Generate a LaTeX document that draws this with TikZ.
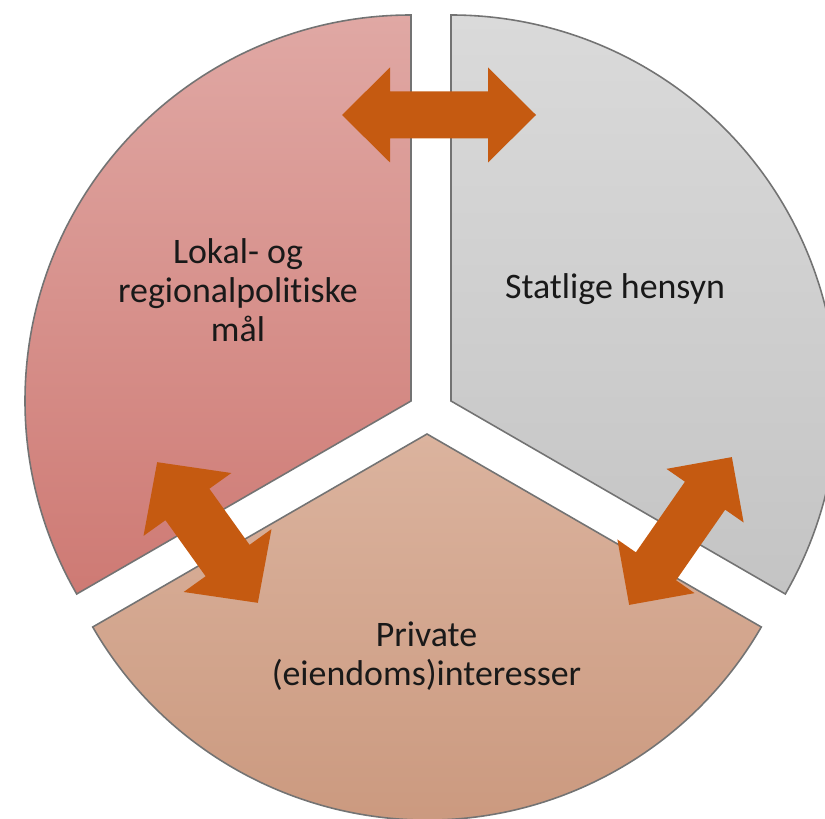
\documentclass[tikz,border=0pt]{standalone}
\usepackage{fontspec}
\setmainfont[Ligatures=NoCommon]{Carlito}
\definecolor{lokaltop}{HTML}{E0A8A4}
\definecolor{lokalbunn}{HTML}{CE7A74}
\definecolor{statligtop}{HTML}{DADADA}
\definecolor{statligbunn}{HTML}{C4C4C4}
\definecolor{privattop}{HTML}{DBB39E}
\definecolor{privatbunn}{HTML}{C9967B}
\definecolor{pilfarge}{HTML}{C55A11}
\tikzset{
  sektor/.style={draw=black!55, line width=0.45pt},
  pil/.style={fill=pilfarge},
  etikett/.style={align=center, text=black!90, inner sep=0pt,
    font=\fontsize{10.2}{11.1}\selectfont}
}
\begin{document}
\begin{tikzpicture}[x=0.01cm,y=0.01cm]
            \useasboundingbox (0,0) rectangle (825,818);
            \clip (0,0) rectangle (825,818);
            % the three sectors
            \shade[sektor,top color=lokaltop,bottom color=lokalbunn]
              (411,417) -- ++(90:386) arc[start angle=90,end angle=210,radius=386] -- cycle;
            \shade[sektor,top color=statligtop,bottom color=statligbunn]
              (451,417) -- ++(-30:386) arc[start angle=-30,end angle=90,radius=386] -- cycle;
            \shade[sektor,top color=privattop,bottom color=privatbunn]
              (427,384) -- ++(210:386) arc[start angle=210,end angle=330,radius=386] -- cycle;
            % double arrows
            \coordinate (pil1) at (439,703);
            \coordinate (pil2) at (207.5,285.5);
            \coordinate (pil3) at (680.5,287);
            \fill[pil,shift={(pil1)}] (-97,0) -- (-49,47.5) -- (-49,23.5) -- (49,23.5) -- (49,47.5)
              -- (97,0) -- (49,-47.5) -- (49,-23.5) -- (-49,-23.5) -- (-49,-47.5) -- cycle;
            \fill[pil,shift={(pil2)},rotate=125.6] (-86.5,0) -- (-34.5,54) -- (-34.5,27) -- (34.5,27) -- (34.5,54)
              -- (86.5,0) -- (34.5,-54) -- (34.5,-27) -- (-34.5,-27) -- (-34.5,-54) -- cycle;
            \fill[pil,shift={(pil3)},rotate=55.2] (-90,0) -- (-43,47) -- (-43,24.5) -- (43,24.5) -- (43,47)
              -- (90,0) -- (43,-47) -- (43,-24.5) -- (-43,-24.5) -- (-43,-47) -- cycle;
            % labels
            \node[etikett] (lokal) at (238,528) {Lokal- og\\regionalpolitiske\\mål};
            \node[etikett] (statlig) at (615,529) {Statlige hensyn};
            \node[etikett] (privat) at (426.5,162) {Private\\(eiendoms)interesser};
\end{tikzpicture}
\end{document}
